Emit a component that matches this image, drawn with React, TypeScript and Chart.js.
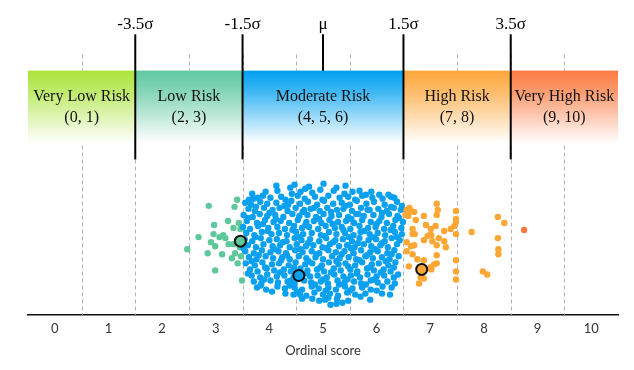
import React, { useEffect, useRef } from "react";
import { Chart, registerables } from "chart.js";

Chart.register(...registerables);

// ---- data ----
const scoreTicks = [0, 1, 2, 3, 4, 5, 6, 7, 8, 9, 10];
const halfSteps = [0.5, 1.5, 2.5, 3.5, 4.5, 5.5, 6.5, 7.5, 8.5, 9.5];
const bandNames = ["Very Low Risk", "Low Risk", "Moderate Risk", "High Risk", "Very High Risk"];
const bandScores = ["(0, 1)", "(2, 3)", "(4, 5, 6)", "(7, 8)", "(9, 10)"];
const bandEdges = [-0.5, 1.5, 3.5, 6.5, 8.5, 10.5];
const bandColors = ["170,228,60", "95,200,160", "0,160,240", "252,166,58", "250,122,64"];
const sigmaLabels = ["-3.5σ", "-1.5σ", "μ", "1.5σ", "3.5σ"];
const sigmaScores = [1.5, 3.5, 5, 6.5, 8.5];

// [score, vertical jitter]
const greenPoints: [number, number][] = [
  [2.87, 204], [3.35, 205], [3.4, 198], [2.97, 223], [3.23, 219], [3.33, 226], [3.43, 221],
  [3.46, 227], [2.68, 235], [2.96, 232], [3.07, 235], [3.14, 233], [3.18, 236], [2.91, 240],
  [2.99, 244], [3.24, 242], [3.33, 242], [3.45, 245], [2.47, 247], [2.85, 251], [3.12, 252],
  [3.36, 251], [3.47, 254], [3.3, 256], [3.41, 261], [2.99, 268], [3.49, 278],
];

const orangePoints: [number, number][] = [
  [7.12, 202], [7.14, 208], [7.12, 213], [6.64, 209], [6.7, 210], [6.54, 213], [6.59, 214],
  [6.73, 218], [6.88, 214], [7.48, 209], [7.48, 217], [7.48, 220], [7.45, 224], [7.38, 227],
  [7.26, 229], [7.48, 232], [6.92, 223], [7.01, 227], [7.1, 224], [6.67, 227], [6.67, 232],
  [6.71, 232], [6.98, 233], [6.95, 234], [7.02, 233], [7.16, 236], [6.88, 238], [7.04, 239],
  [7.26, 239], [6.56, 240], [6.7, 243], [6.64, 244], [7.12, 243], [7.29, 245], [6.56, 249],
  [6.67, 252], [6.76, 257], [7.12, 253], [6.88, 258], [7.07, 262], [7.12, 261], [7.48, 258],
  [7.0, 265], [7.02, 267], [6.6, 264], [7.48, 269], [6.82, 275], [6.88, 276], [6.79, 281],
  [7.48, 277], [7.77, 230], [8.26, 215], [8.38, 221], [8.26, 236], [8.27, 247], [8.27, 252],
  [7.98, 269], [8.06, 272], [6.56, 208], [6.61, 206],
];

const redPoints: [number, number][] = [[8.75, 228]];

const bluePoints: [number, number][] = [
  [4.13, 184], [4.39, 186], [4.67, 187], [5.01, 182], [5.42, 184], [4.95, 188], [5.68, 189],
  [3.68, 192], [3.93, 190], [4.15, 189], [4.42, 192], [4.58, 190], [4.8, 191], [5.2, 189], [5.4, 192], [5.55, 190], [5.8, 193], [6.22, 193], [3.78, 196],
  [3.7, 197], [3.88, 194], [4.02, 196], [4.22, 195], [4.3, 198], [4.53, 194], [4.66, 197], [4.85, 195], [4.99, 198], [5.1, 194], [5.31, 196], [5.47, 195], [5.6, 198], [5.73, 194], [5.92, 196], [6.11, 197], [6.27, 195],
  [3.55, 201], [3.66, 203], [3.83, 200], [3.96, 202], [4.13, 201], [4.28, 204], [4.41, 199], [4.57, 202], [4.72, 200], [4.89, 203], [5.02, 199], [5.19, 202], [5.35, 201], [5.5, 203], [5.63, 199], [5.81, 202], [5.95, 200], [6.15, 203], [6.38, 200], [6.47, 204],
  [3.61, 207], [3.73, 209], [3.9, 206], [4.06, 208], [4.19, 206], [4.34, 209], [4.49, 206], [4.65, 208], [4.77, 207], [4.94, 209], [5.08, 206], [5.26, 208], [5.38, 207], [5.54, 209], [5.71, 206], [5.87, 208], [6.03, 207], [6.19, 209], [6.32, 206], [6.45, 208],
  [3.52, 213], [3.69, 215], [3.82, 212], [3.96, 214], [4.11, 213], [4.26, 215], [4.43, 212], [4.56, 214], [4.71, 213], [4.87, 215], [5.01, 212], [5.16, 214], [5.3, 213], [5.47, 215], [5.62, 212], [5.76, 214], [5.94, 213], [6.09, 215], [6.23, 212], [6.39, 214],
  [3.58, 219], [3.77, 221], [3.92, 218], [4.08, 220], [4.21, 219], [4.37, 221], [4.53, 218], [4.69, 220], [4.83, 219], [4.97, 221], [5.12, 218], [5.28, 220], [5.43, 219], [5.58, 221], [5.73, 218], [5.89, 220], [6.05, 219], [6.19, 221], [6.35, 218], [6.49, 220],
  [3.51, 225], [3.64, 227], [3.79, 224], [3.98, 226], [4.15, 225], [4.29, 227], [4.46, 224], [4.61, 226], [4.74, 225], [4.91, 227], [5.05, 224], [5.22, 226], [5.35, 225], [5.51, 227], [5.68, 224], [5.84, 226], [5.98, 225], [6.14, 227], [6.31, 224], [6.46, 226],
  [3.57, 231], [3.72, 233], [3.86, 230], [4.04, 232], [4.18, 231], [4.33, 233], [4.5, 230], [4.63, 232], [4.79, 231], [4.96, 233], [5.11, 230], [5.25, 232], [5.41, 231], [5.57, 233], [5.7, 230], [5.87, 232], [6.02, 231], [6.16, 233], [6.34, 230], [6.47, 232],
  [3.54, 237], [3.68, 239], [3.84, 236], [4.0, 238], [4.14, 237], [4.32, 239], [4.47, 236], [4.6, 238], [4.76, 237], [4.93, 239], [5.06, 236], [5.23, 238], [5.37, 237], [5.54, 239], [5.68, 236], [5.85, 238], [5.99, 237], [6.15, 239], [6.28, 236], [6.43, 238],
  [3.6, 243], [3.75, 245], [3.89, 242], [4.06, 244], [4.2, 243], [4.38, 245], [4.51, 242], [4.68, 244], [4.82, 243], [4.99, 245], [5.13, 242], [5.3, 244], [5.45, 243], [5.59, 245], [5.76, 242], [5.9, 244], [6.07, 243], [6.21, 245], [6.38, 242],
  [3.55, 249], [3.71, 251], [3.86, 248], [4.02, 250], [4.17, 249], [4.31, 251], [4.48, 248], [4.62, 250], [4.79, 249], [4.93, 251], [5.1, 248], [5.24, 250], [5.4, 249], [5.57, 251], [5.71, 248], [5.88, 250], [6.02, 249], [6.2, 251], [6.33, 248],
  [3.62, 255], [3.76, 257], [3.93, 254], [4.07, 256], [4.24, 255], [4.38, 257], [4.55, 254], [4.69, 256], [4.86, 255], [5.0, 257], [5.17, 254], [5.31, 256], [5.48, 255], [5.62, 257], [5.79, 254], [5.93, 256], [6.1, 255], [6.24, 257], [6.41, 254],
  [3.56, 261], [3.73, 263], [3.87, 260], [4.05, 262], [4.18, 261], [4.36, 263], [4.49, 260], [4.67, 262], [4.8, 261], [4.98, 263], [5.11, 260], [5.29, 262], [5.42, 261], [5.6, 263], [5.73, 260], [5.91, 262], [6.04, 261], [6.22, 263], [6.35, 260],
  [3.64, 267], [3.78, 269], [3.95, 266], [4.09, 268], [4.27, 267], [4.4, 269], [4.58, 266], [4.71, 268], [4.89, 267], [5.02, 269], [5.2, 266], [5.33, 268], [5.51, 267], [5.64, 269], [5.82, 266], [5.95, 268], [6.13, 267], [6.26, 269],
  [3.67, 273], [3.83, 275], [3.96, 272], [4.14, 274], [4.28, 273], [4.45, 275], [4.59, 272], [4.76, 274], [4.9, 273], [5.07, 275], [5.21, 272], [5.38, 274], [5.52, 273], [5.69, 275], [5.83, 272], [6.0, 274], [6.14, 273], [6.32, 275],
  [3.71, 279], [3.85, 281], [4.02, 278], [4.16, 280], [4.34, 279], [4.47, 281], [4.65, 278], [4.78, 280], [4.96, 279], [5.09, 281], [5.27, 278], [5.4, 280], [5.58, 279], [5.71, 281], [5.89, 278], [6.02, 280], [6.2, 279], [6.34, 281],
  [3.77, 285], [3.94, 287], [4.15, 284], [4.29, 286], [4.47, 285], [4.61, 287], [4.79, 284], [4.92, 286], [5.1, 285], [5.24, 287], [5.41, 284], [5.55, 286], [5.73, 285], [5.89, 287], [6.11, 284],
  [4.45, 292], [4.57, 292], [4.69, 293], [4.84, 290], [5.0, 292], [5.13, 291], [5.28, 293], [5.45, 290], [5.6, 292], [5.79, 291], [6.25, 292],
  [4.61, 296], [4.93, 298], [5.04, 297], [5.14, 302], [5.25, 301], [5.26, 296], [5.47, 298], [5.88, 297],
  [3.62, 198], [4.47, 183], [4.74, 185], [5.25, 186], [5.9, 190], [6.05, 193], [6.33, 196], [3.75, 205], [4.0, 211],
  [4.35, 203], [4.62, 210], [4.83, 206], [5.15, 210], [5.42, 204], [5.66, 212], [5.83, 208], [6.1, 211], [6.27, 205],
  [3.6, 216], [3.88, 222], [4.12, 217], [4.43, 228], [4.67, 223], [4.93, 217], [5.18, 222], [5.38, 228], [5.53, 217],
  [5.77, 229], [6.0, 222], [6.26, 228], [6.42, 216], [3.74, 235], [3.97, 229], [4.25, 240], [4.55, 235], [4.72, 241],
  [5.03, 234], [5.19, 240], [5.48, 235], [5.65, 241], [5.93, 235], [6.1, 241], [6.38, 235], [3.52, 246], [3.8, 253],
  [4.1, 247], [4.33, 253], [4.58, 247], [4.88, 252], [5.06, 246], [5.35, 252], [5.52, 246], [5.82, 253], [5.97, 247],
  [6.28, 252], [3.67, 259], [3.92, 265], [4.22, 258], [4.46, 265], [4.73, 259], [4.95, 265], [5.25, 259], [5.47, 264],
  [5.68, 258], [5.87, 265], [6.17, 259], [6.32, 265], [3.6, 271], [3.9, 277], [4.2, 270], [4.4, 278], [4.7, 271],
  [5.0, 277], [5.15, 270], [5.45, 277], [5.63, 271], [5.95, 277], [6.08, 270], [6.4, 272], [3.84, 283], [4.05, 289],
  [4.38, 283], [4.52, 289], [4.85, 282], [5.05, 288], [5.3, 282], [5.5, 288], [5.8, 282], [6.0, 288], [6.28, 285],
  [4.8, 296], [5.1, 295], [5.36, 300], [5.7, 294], [4.3, 291], [6.1, 291],
];

// highlighted examples: score, jitter, category colour
const highlightPoints: [number, number][] = [[3.46, 239], [4.55, 273], [6.84, 267]];
const highlightColors = ["rgb(95,200,155)", "rgb(10,160,240)", "rgb(252,166,52)"];

const toXY = (pts: [number, number][]) => pts.map(([x, y]) => ({ x, y }));

const SERIF = "'Liberation Serif', 'DejaVu Serif', serif";
const SANS = "Lato, 'Open Sans', sans-serif";

const bandPlugin = {
  id: "riskBands",
  beforeDatasetsDraw(chart: any) {
    const { ctx, scales } = chart;
    const x = scales.x;
    const y = scales.y;
    const axisY = y.getPixelForValue(312);
    ctx.save();
    // dashed half-step guides
    ctx.strokeStyle = "rgba(170,170,170,0.9)";
    ctx.lineWidth = 1;
    ctx.setLineDash([4, 3]);
    halfSteps.forEach((v) => {
      const px = Math.round(x.getPixelForValue(v)) + 0.5;
      ctx.beginPath();
      ctx.moveTo(px, y.getPixelForValue(54));
      ctx.lineTo(px, axisY);
      ctx.stroke();
    });
    ctx.setLineDash([]);
    // bands
    const top = y.getPixelForValue(70);
    const bottom = y.getPixelForValue(142);
    for (let i = 0; i < bandNames.length; i++) {
      const x0 = x.getPixelForValue(bandEdges[i]);
      const x1 = x.getPixelForValue(bandEdges[i + 1]);
      const g = ctx.createLinearGradient(0, top, 0, bottom);
      g.addColorStop(0, `rgba(${bandColors[i]},1)`);
      g.addColorStop(0.3, `rgba(${bandColors[i]},0.75)`);
      g.addColorStop(1, `rgba(${bandColors[i]},0)`);
      ctx.fillStyle = "#fff";
      ctx.fillRect(x0, top, x1 - x0, bottom - top);
      ctx.fillStyle = g;
      ctx.fillRect(x0, top, x1 - x0, bottom - top);
      const cx = (x0 + x1) / 2;
      ctx.fillStyle = "#111";
      ctx.font = `16px ${SERIF}`;
      ctx.textAlign = "center";
      ctx.textBaseline = "middle";
      ctx.fillText(bandNames[i], cx, y.getPixelForValue(96));
      ctx.fillText(bandScores[i], cx, y.getPixelForValue(117));
    }
    // sigma lines
    ctx.strokeStyle = "#000";
    ctx.lineWidth = 2;
    sigmaScores.forEach((v, i) => {
      const px = x.getPixelForValue(v);
      ctx.beginPath();
      ctx.moveTo(px, y.getPixelForValue(34));
      ctx.lineTo(px, y.getPixelForValue(sigmaLabels[i] === "μ" ? 70 : 158));
      ctx.stroke();
      ctx.fillStyle = "#000";
      ctx.font = `17px ${SERIF}`;
      ctx.textAlign = "center";
      ctx.textBaseline = "alphabetic";
      ctx.fillText(sigmaLabels[i], px, y.getPixelForValue(29));
    });
    ctx.restore();
  },
};

export default function App() {
  const ref = useRef<HTMLCanvasElement>(null);
  useEffect(() => {
    if (!ref.current) return;
    const ptStyle = { pointRadius: 3.2, pointHoverRadius: 3.2, borderWidth: 0, showLine: false };
    const chart = new Chart(ref.current, {
      type: "scatter",
      data: {
        datasets: [
          { label: "Low", data: toXY(greenPoints), backgroundColor: "rgb(95,200,155)", order: 3, ...ptStyle },
          { label: "Moderate", data: toXY(bluePoints), backgroundColor: "rgb(10,160,240)", order: 2, ...ptStyle },
          { label: "High", data: toXY(orangePoints), backgroundColor: "rgb(252,166,52)", order: 1, ...ptStyle },
          { label: "Very High", data: toXY(redPoints), backgroundColor: "rgb(245,122,64)", order: 0, ...ptStyle },
          {
            label: "Examples",
            data: toXY(highlightPoints),
            backgroundColor: highlightColors,
            borderColor: "#111",
            borderWidth: 2,
            pointRadius: 5.5,
            pointHoverRadius: 5.5,
            order: -1,
          },
        ],
      },
      options: {
        animation: false,
        responsive: false,
        maintainAspectRatio: false,
        layout: { autoPadding: false, padding: { left: 28, right: 16, top: 0, bottom: 11 } },
        plugins: { legend: { display: false }, tooltip: { enabled: false } },
        scales: {
          x: {
            type: "linear",
            min: -0.5,
            max: 10.5,
            afterBuildTicks: (axis: any) => {
              axis.ticks = scoreTicks.map((v) => ({ value: v }));
            },
            grid: { display: false, drawTicks: false },
            border: { display: true, color: "#111", width: 1.5 },
            ticks: { color: "#333", padding: 6, font: { family: SANS, size: 13 } },
            title: {
              display: true,
              text: "Ordinal score",
              color: "#333",
              padding: { top: 1, bottom: 0 },
              font: { family: SANS, size: 13 },
            },
          },
          y: { type: "linear", min: 0, max: 312, reverse: true, display: false },
        },
      },
      plugins: [bandPlugin],
    });
    return () => chart.destroy();
  }, []);
  return (
    <div style={{ position: "fixed", left: 0, top: 0, width: 634, height: 370, background: "#fff" }}>
      <canvas ref={ref} width={634} height={370} style={{ width: 634, height: 370 }} />
    </div>
  );
}
